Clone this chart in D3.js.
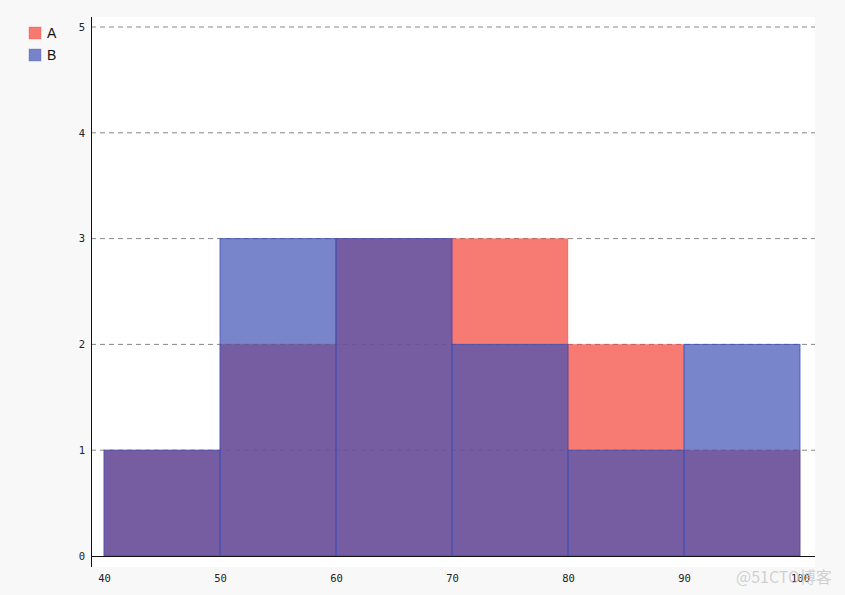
<!DOCTYPE html>
<html><head><meta charset="utf-8">
<script src="https://cdn.jsdelivr.net/npm/d3@7/dist/d3.min.js"></script>
<style>body{margin:0;background:#f8f8f8;}svg{display:block;}</style>
</head><body>
<svg id="c" width="845" height="595"></svg>
<script>
const binEdges = [40, 50, 60, 70, 80, 90, 100];
const seriesA = [1, 2, 3, 3, 2, 1];
const seriesB = [1, 3, 3, 2, 1, 2];
const seriesNames = ["A", "B"];
const seriesColors = ["#f44336", "#3f51b5"];
const yTicks = [0, 1, 2, 3, 4, 5];
const xTicks = [40, 50, 60, 70, 80, 90, 100];

const svg = d3.select("#c");
const plot = {left: 91, right: 815, top: 17, bottom: 567};
const x = d3.scaleLinear().domain([40, 100]).range([104, 800]);
const y = d3.scaleLinear().domain([0, 5]).range([556, 27]);

svg.append("rect").attr("x", plot.left).attr("y", plot.top)
  .attr("width", plot.right - plot.left).attr("height", plot.bottom - plot.top)
  .attr("fill", "#fff");

// grid
svg.append("g").selectAll("line").data(yTicks.filter(d => d > 0)).join("line")
  .attr("x1", plot.left).attr("x2", plot.right)
  .attr("y1", d => y(d)).attr("y2", d => y(d))
  .attr("stroke", "#888").attr("stroke-width", 1)
  .attr("stroke-dasharray", "5,4");

const series = [seriesA, seriesB];
series.forEach((vals, si) => {
  const bins = vals.map((v, i) => ({x0: binEdges[i], x1: binEdges[i + 1], v}));
  svg.append("g").selectAll("rect").data(bins).join("rect")
    .attr("x", d => x(d.x0)).attr("width", d => x(d.x1) - x(d.x0))
    .attr("y", d => y(d.v)).attr("height", d => y(0) - y(d.v))
    .attr("fill", seriesColors[si]).attr("fill-opacity", 0.7)
    .attr("stroke", seriesColors[si]).attr("stroke-opacity", si === 1 ? 0.8 : 0.3).attr("stroke-width", 1);
});

// axes
const yAxis = svg.append("g").attr("transform", `translate(${plot.left},0)`)
  .call(d3.axisLeft(y).tickValues(yTicks).tickSize(0).tickPadding(6).tickFormat(d3.format("d")));
yAxis.select(".domain").remove();
yAxis.selectAll("text").attr("font-family", "DejaVu Sans Mono").attr("font-size", 10.5).attr("fill", "#222");
svg.append("line").attr("x1", plot.left + 0.5).attr("x2", plot.left + 0.5)
  .attr("y1", plot.top).attr("y2", plot.bottom).attr("stroke", "#111");
svg.append("line").attr("x1", plot.left).attr("x2", plot.right)
  .attr("y1", y(0) + 0.5).attr("y2", y(0) + 0.5).attr("stroke", "#111");

const xAxis = svg.append("g").attr("transform", `translate(0,${plot.bottom})`)
  .call(d3.axisBottom(x).tickValues(xTicks).tickSize(0).tickPadding(8).tickFormat(d3.format("d")));
xAxis.select(".domain").remove();
xAxis.selectAll("text").attr("font-family", "DejaVu Sans Mono").attr("font-size", 10.5).attr("fill", "#222");

// legend
const lg = svg.append("g").attr("transform", "translate(29,27)");
seriesNames.forEach((n, i) => {
  const g = lg.append("g").attr("transform", `translate(0,${i * 22})`);
  g.append("rect").attr("width", 12).attr("height", 12)
    .attr("fill", seriesColors[i]).attr("fill-opacity", 0.7)
    .attr("stroke", seriesColors[i]).attr("stroke-opacity", 0.3);
  g.append("text").attr("x", 18).attr("y", 11).text(n)
    .attr("font-family", "Liberation Sans, Arial, sans-serif").attr("font-size", 14).attr("fill", "#111");
});

// watermark
svg.append("text").attr("x", 736).attr("y", 583).text("@51CTO博客")
  .attr("font-family", "Noto Sans CJK SC, sans-serif").attr("font-size", 16)
  .attr("fill", "#c8c8c8").attr("fill-opacity", 0.85);
</script>
</body></html>
